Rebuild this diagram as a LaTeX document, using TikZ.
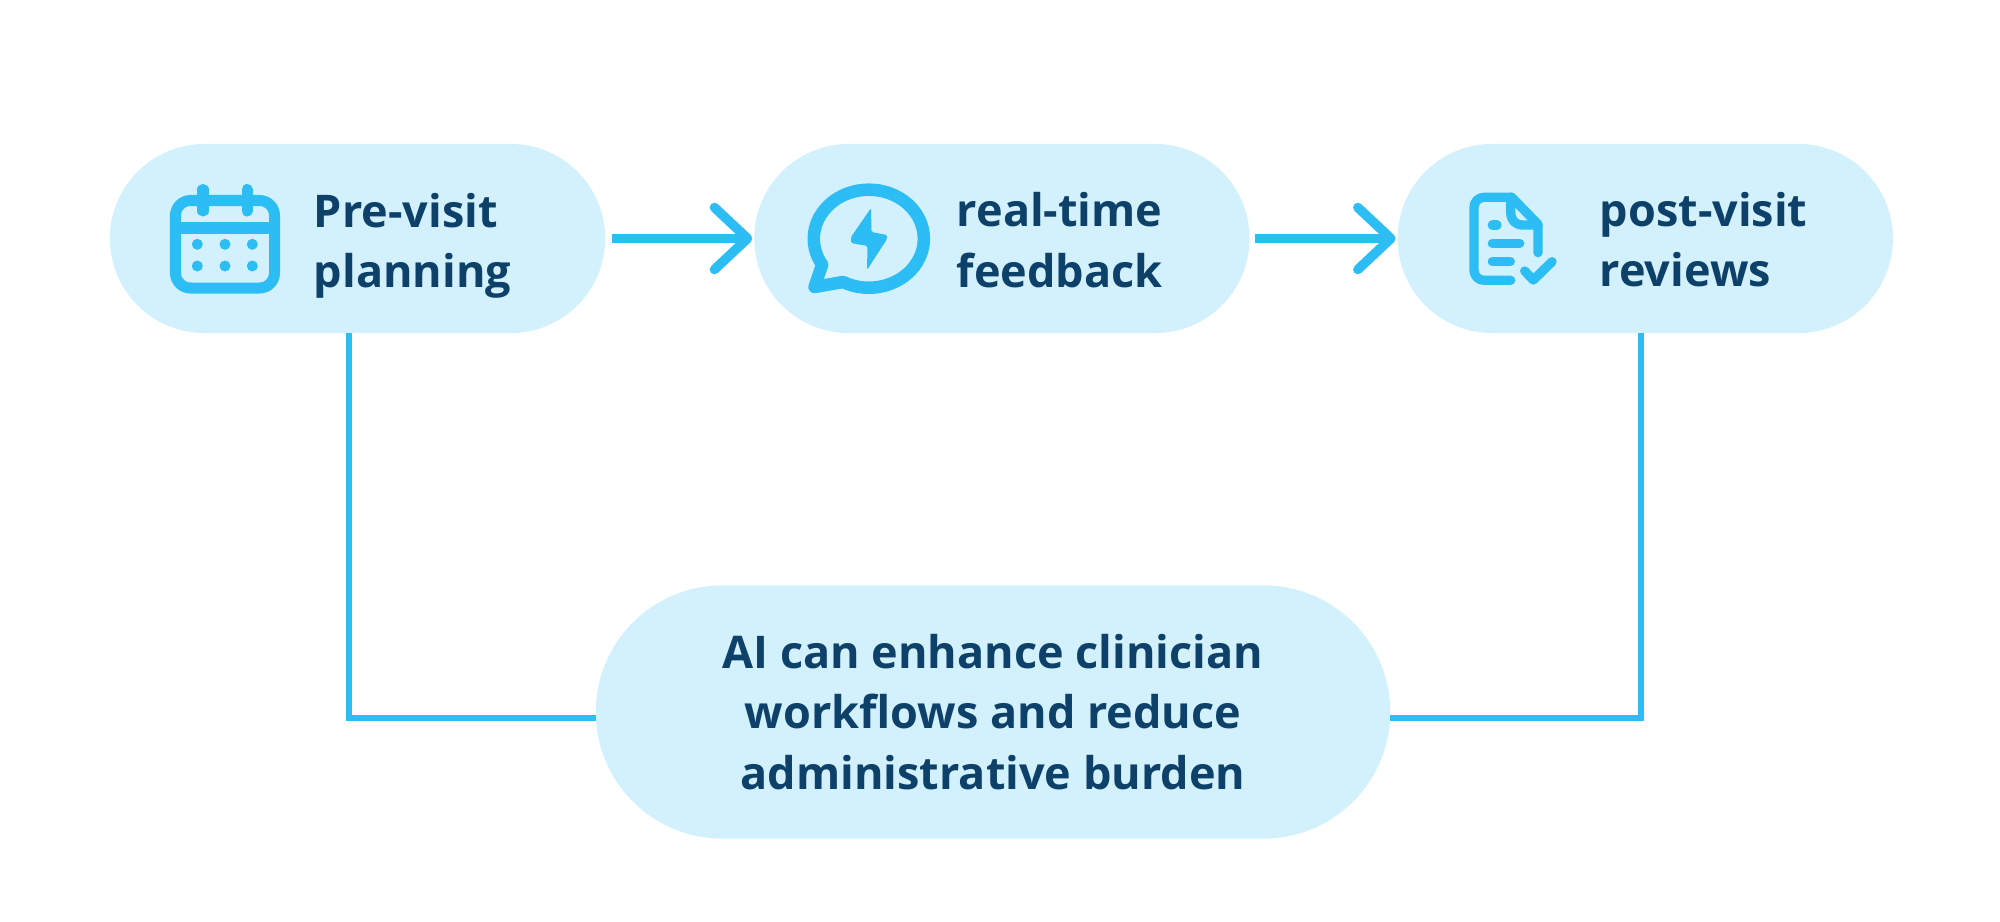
\documentclass[tikz,border=0pt]{standalone}
\usepackage{fontspec}
\setmainfont{Open Sans}
\usetikzlibrary{positioning, arrows.meta, shapes.misc}
\definecolor{Mifondo}{RGB}{211,241,252}
\definecolor{Micyan}{RGB}{43,189,243}
\definecolor{Mitexto}{RGB}{13,65,105}

\begin{document}
\begin{tikzpicture}[
  x=0.01cm, y=-0.01cm,
  pastilla/.style={
    rounded rectangle, fill=Mifondo,
    minimum width=4.95cm, minimum height=1.89cm,
    inner sep=0pt, outer sep=0pt
  },
  etiq/.style={
    font=\fontsize{12.8}{17.2}\selectfont\bfseries,
    text=Mitexto, align=left, inner sep=0pt, outer sep=0pt
  },
  flecha/.style={
    line width=0.095cm, color=Micyan, shorten <=0.07cm, shorten >=0.02cm,
    -{Straight Barb[length=0.33cm, width=0.62cm, round]}
  },
  conector/.style={line width=0.06cm, color=Micyan},
  icono/.style={line width=0.11cm, color=Micyan, line cap=round, line join=round},
  iconofino/.style={icono, line width=0.093cm}
]
  \useasboundingbox (0,0) rectangle (2000,921);

  % --- Pastillas ---
  \node[pastilla] (previsit) at (357.5,238.5) {};
  \node[pastilla, right=1.49cm of previsit] (feedback) {};
  \node[pastilla, right=1.48cm of feedback] (postvisit) {};
  \node[pastilla, minimum width=7.94cm, minimum height=2.53cm, etiq, align=center] (resumen) at (993,712)
    {AI can enhance clinician\\workflows and reduce\\administrative burden};

  % --- Textos ---
  \node[etiq, right=2.04cm of previsit.west, yshift=-0.075cm]   (txtplan) {Pre-visit\\planning};
  \node[etiq, right=2.025cm of feedback.west, yshift=-0.015cm]  (txtfeed) {real-time\\feedback};
  \node[etiq, right=2.02cm of postvisit.west, yshift=-0.01cm] (txtpost) {post-visit\\reviews};

  % --- Flechas ---
  \draw[flecha] (previsit.east) -- (feedback.west);
  \draw[flecha, shorten <=0.05cm] (feedback.east) -- (postvisit.west);

  % --- Conectores hacia la pastilla de abajo ---
  \draw[conector] ([xshift=-0.085cm]previsit.south) |- ([yshift=-0.06cm]resumen.west);
  \draw[conector] ([xshift=-0.04cm]postvisit.south) |- ([yshift=-0.06cm]resumen.east);

  % --- Calendario ---
  \draw[icono, rounded corners=0.15cm] (175.5,228) -- (175.5,200.5) -- (274.5,200.5) -- (274.5,288) -- (175.5,288) -- cycle;
  \draw[icono, line cap=butt] (175.5,228) -- (274.5,228);
  \draw[icono] (203,189.5) -- (203,211);
  \draw[icono] (247,189.5) -- (247,211);
  \foreach \px in {197.3,225,252.3}
    \foreach \py in {244.3,266}
      \fill[Micyan] (\px,\py) circle[radius=0.055cm];

  % --- Globo con rayo ---
  \draw[icono, line width=0.125cm] (843,282) arc[start angle=-118, end angle=212, x radius=0.55cm, y radius=0.49cm]
    -- (814.5,287) -- cycle;
  \fill[Micyan, rounded corners=0.015cm] (871,208) -- (871.5,232) -- (887,235) -- (887,239) -- (867,270) -- (867.5,246) -- (851,243) -- (851,237) -- cycle;

  % --- Documento ---
  \draw[iconofino, rounded corners=0.1cm] (1510.7,280.3) -- (1474,280.3) -- (1474,197.3) -- (1511.7,197.3);
  \draw[iconofino] (1511.7,197.3) -- (1538,224.3) -- (1538,252.7);
  \draw[iconofino] (1510.7,197.3) -- (1510.7,212) .. controls (1510.7,220) and (1515,225) .. (1523,225) -- (1538,225);
  \draw[iconofino] (1492.3,225) -- (1497,225);
  \draw[iconofino] (1492.3,243.3) -- (1519.7,243.3);
  \draw[iconofino] (1492.3,261.7) -- (1510.3,261.7);
  \draw[iconofino] (1524.7,271) -- (1533.3,280) -- (1552,261.7);
\end{tikzpicture}
\end{document}
